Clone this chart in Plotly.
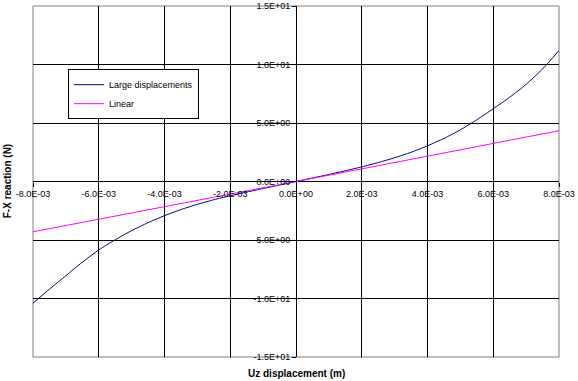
import plotly.graph_objects as go

# Data
uz_large = [-8.0e-3, -7.5e-3, -7.0e-3, -6.5e-3, -6.0e-3, -5.5e-3, -5.0e-3, -4.5e-3, -4.0e-3,
            -3.5e-3, -3.0e-3, -2.5e-3, -2.0e-3, -1.5e-3, -1.0e-3, -0.5e-3, 0.0,
            0.5e-3, 1.0e-3, 1.5e-3, 2.0e-3, 2.5e-3, 3.0e-3, 3.5e-3, 4.0e-3,
            4.5e-3, 5.0e-3, 5.5e-3, 6.0e-3, 6.5e-3, 7.0e-3, 7.5e-3, 8.0e-3]
fx_large = [-10.4, -9.2, -8.05, -6.9, -5.85, -4.98, -4.2, -3.52, -2.92,
            -2.4, -1.95, -1.56, -1.22, -0.9, -0.6, -0.3, 0.0,
            0.3, 0.6, 0.92, 1.25, 1.62, 2.03, 2.5, 3.05,
            3.68, 4.42, 5.28, 6.22, 7.2, 8.3, 9.62, 11.2]

uz_linear = [-8.0e-3, -6.0e-3, -4.0e-3, -2.0e-3, 0.0, 2.0e-3, 4.0e-3, 6.0e-3, 8.0e-3]
fx_linear = [-4.3, -3.24, -2.16, -1.08, 0.0, 1.08, 2.16, 3.24, 4.34]

x_tickvals = [-8e-3, -6e-3, -4e-3, -2e-3, 0.0, 2e-3, 4e-3, 6e-3, 8e-3]
x_ticktext = ["-8.0E-03", "-6.0E-03", "-4.0E-03", "-2.0E-03", "0.0E+00",
              "2.0E-03", "4.0E-03", "6.0E-03", "8.0E-03"]
y_tickvals = [-15, -10, -5, 0, 5, 10, 15]
y_ticktext = ["-1.5E+01", "-1.0E+01", "-5.0E+00", "0.0E+00", "5.0E+00", "1.0E+01", "1.5E+01"]

FONT = "Liberation Sans, Arial, sans-serif"

fig = go.Figure()
fig.add_trace(go.Scatter(x=uz_large, y=fx_large, mode="lines", name="Large displacements",
                         line=dict(color="#000080", width=1, shape="spline", smoothing=0.6)))
fig.add_trace(go.Scatter(x=uz_linear, y=fx_linear, mode="lines", name="Linear",
                         line=dict(color="#FF00FF", width=1)))

fig.update_layout(
    width=578, height=381,
    margin=dict(l=33, r=19, t=6, b=24, autoexpand=False),
    paper_bgcolor="white", plot_bgcolor="white",
    font=dict(family=FONT, size=9, color="black"),
    showlegend=True,
    legend=dict(x=0.0665, y=0.82, xanchor="left", yanchor="top",
                bordercolor="black", borderwidth=1, bgcolor="white",
                font=dict(family=FONT, size=9, color="black"),
                itemwidth=30, tracegroupgap=0),
    xaxis=dict(range=[-8e-3, 8e-3], tickvals=x_tickvals, ticktext=x_ticktext,
               showgrid=True, gridcolor="black", gridwidth=1,
               zeroline=True, zerolinecolor="black", zerolinewidth=1,
               anchor="free", position=0.5, showline=False, automargin=False,
               ticks="outside", ticklen=4, tickcolor="black",
               tickfont=dict(family=FONT, size=9, color="black")),
    yaxis=dict(range=[-15, 15], tickvals=y_tickvals, ticktext=y_ticktext,
               showgrid=True, gridcolor="black", gridwidth=1,
               zeroline=True, zerolinecolor="black", zerolinewidth=1,
               anchor="free", position=0.5, showline=False, automargin=False,
               ticks="outside", ticklen=4, tickcolor="black",
               tickfont=dict(family=FONT, size=9, color="black")),
    shapes=[dict(type="rect", xref="paper", yref="paper", x0=0, x1=1, y0=0, y1=1,
                 line=dict(color="#808080", width=1), layer="between")],
    annotations=[
        dict(text="<b>Uz displacement (m)</b>", xref="paper", yref="paper",
             x=0.5, y=-0.0456, xanchor="center", yanchor="middle", showarrow=False,
             font=dict(family=FONT, size=10, color="black")),
        dict(text="<b>F-X reaction (N)</b>", xref="paper", yref="paper",
             x=-0.048, y=0.5, xanchor="center", yanchor="middle", showarrow=False,
             textangle=-90, font=dict(family=FONT, size=10, color="black")),
    ],
)

fig.write_html("out.html", config={"displayModeBar": False},
               post_script="document.body.style.margin='0';document.body.style.overflow='hidden';")
